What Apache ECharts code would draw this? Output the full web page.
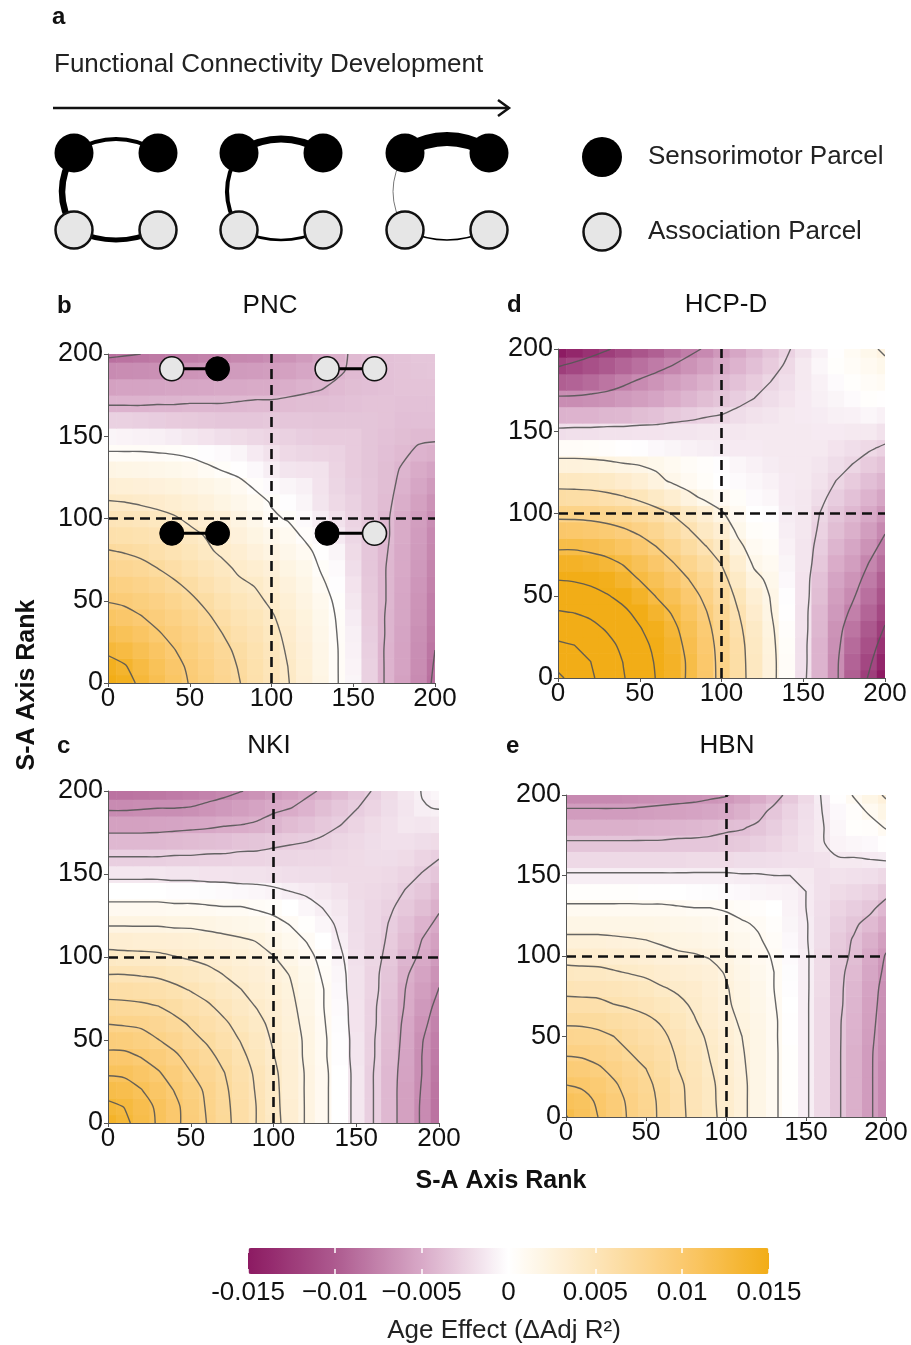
<!DOCTYPE html>
<html>
<head>
<meta charset="utf-8">
<title>Age effect along the S-A axis</title>
<script src="https://cdn.jsdelivr.net/npm/echarts@6/dist/echarts.min.js"></script>
<style>
  html, body { margin: 0; padding: 0; background: #fff; }
  #chart { width: 911px; height: 1345px; }
</style>
</head>
<body>
<div id="chart"></div>
<script>
const FONT = "'Liberation Sans', Arial, Helvetica, sans-serif";

// S-A axis rank grid positions (both axes)
const ranks = [0, 10, 20, 30, 40, 50, 60, 70, 80, 90, 100, 110, 120, 130, 140, 150, 160, 170, 180, 190, 200];
const rankTicks = [0, 50, 100, 150, 200];
const splitRank = 100;

// colour bar
const barTicks = [-15, -10, -5, 0, 5, 10, 15];
const barLabels = ['-0.015', '\u22120.01', '\u22120.005', '0', '0.005', '0.01', '0.015'];
const barColors = ['#8c1a62', '#ad5a8f', '#d8a9c7', '#ffffff', '#fde5b9', '#fbc96f', '#f2ad17'];

// Age effect (delta adj R2) in units of 0.001.
// Matrices are symmetric: row j holds the values at (rank i, rank j) for i <= j.
const pncTri = [
  [16.0],
  [14.5, 13.7],
  [13.0, 12.5, 11.6],
  [11.7, 11.3, 10.7, 9.9],
  [10.6, 10.3, 9.8, 9.2, 8.6],
  [9.6, 9.4, 9.0, 8.5, 7.9, 7.2],
  [8.8, 8.6, 8.2, 7.7, 7.1, 6.4, 5.7],
  [7.8, 7.6, 7.3, 6.8, 6.2, 5.6, 5.0, 4.4],
  [6.9, 6.7, 6.4, 5.9, 5.4, 4.9, 4.3, 3.7, 3.2],
  [5.9, 5.8, 5.6, 5.3, 4.9, 4.4, 3.9, 3.3, 2.6, 2.0],
  [5.1, 5.0, 4.8, 4.5, 4.2, 3.7, 3.3, 2.8, 2.1, 1.5, 0.7],
  [4.1, 4.0, 3.8, 3.6, 3.3, 2.9, 2.5, 2.0, 1.5, 1.0, 0.4, -0.1],
  [3.0, 2.9, 2.8, 2.6, 2.4, 2.1, 1.8, 1.4, 0.9, 0.3, -0.3, -0.6, -0.9],
  [1.9, 1.8, 1.7, 1.6, 1.4, 1.2, 0.8, 0.4, 0.1, -0.4, -1.0, -1.5, -1.6, -1.7],
  [0.6, 0.6, 0.6, 0.5, 0.4, 0.2, -0.1, -0.3, -0.6, -1.2, -1.7, -2.2, -2.4, -2.5, -2.6],
  [-0.6, -0.7, -0.8, -0.9, -1.1, -1.4, -1.6, -1.9, -2.1, -2.3, -2.5, -2.7, -2.9, -3.0, -3.0, -3.0],
  [-2.7, -2.7, -2.8, -2.9, -3.0, -3.1, -3.2, -3.3, -3.3, -3.3, -3.2, -3.3, -3.3, -3.4, -3.4, -3.4, -3.4],
  [-4.4, -4.4, -4.4, -4.3, -4.3, -4.2, -4.2, -4.2, -4.1, -4.0, -4.0, -3.9, -3.8, -3.8, -3.7, -3.6, -3.5, -3.5],
  [-5.5, -5.4, -5.4, -5.3, -5.2, -5.2, -5.1, -5.0, -5.0, -4.9, -4.9, -4.7, -4.5, -4.3, -4.0, -3.8, -3.7, -3.6, -3.5],
  [-6.9, -6.8, -6.7, -6.6, -6.4, -6.3, -6.2, -6.0, -5.9, -5.8, -5.7, -5.5, -5.2, -4.9, -4.4, -4.0, -3.7, -3.6, -3.5, -3.4],
  [-8.6, -8.4, -8.2, -8.0, -7.8, -7.7, -7.5, -7.3, -7.1, -7.0, -6.7, -6.4, -5.9, -5.3, -4.6, -4.0, -3.7, -3.6, -3.5, -3.3, -3.3]
];
const hcpdTri = [
  [27.7],
  [25.8, 25.0],
  [23.9, 23.4, 22.2],
  [21.9, 21.6, 20.7, 19.5],
  [20.0, 19.7, 19.1, 18.0, 16.8],
  [18.0, 17.8, 17.2, 16.4, 15.3, 14.0],
  [16.1, 15.9, 15.5, 14.7, 13.7, 12.5, 11.5],
  [14.1, 14.1, 13.7, 13.2, 12.4, 11.4, 10.3, 9.1],
  [12.2, 12.2, 11.9, 11.5, 10.8, 10.0, 9.0, 7.9, 6.6],
  [10.3, 10.2, 10.0, 9.7, 9.2, 8.5, 7.7, 6.6, 5.5, 4.2],
  [8.3, 8.3, 8.2, 7.9, 7.5, 6.9, 6.2, 5.3, 4.3, 3.2, 2.0],
  [6.4, 6.3, 6.2, 5.9, 5.5, 4.9, 4.1, 3.3, 2.3, 1.4, 0.9, 0.4],
  [4.4, 4.4, 4.3, 4.1, 3.6, 3.1, 2.3, 1.5, 0.9, 0.4, 0.0, -0.3, -0.5],
  [2.5, 2.5, 2.4, 2.2, 1.9, 1.7, 1.4, 1.0, 0.6, 0.3, -0.1, -0.5, -0.8, -1.1],
  [0.5, 0.5, 0.4, 0.3, 0.1, -0.1, -0.4, -0.6, -0.8, -1.0, -1.1, -1.2, -1.2, -1.3, -1.3],
  [-1.9, -1.8, -1.8, -1.7, -1.7, -1.6, -1.6, -1.5, -1.5, -1.4, -1.4, -1.4, -1.3, -1.3, -1.3, -1.3],
  [-4.5, -4.4, -4.4, -4.2, -4.1, -3.8, -3.6, -3.2, -2.9, -2.6, -2.4, -2.0, -1.7, -1.5, -1.3, -1.2, -1.1],
  [-6.8, -6.8, -6.6, -6.4, -6.0, -5.7, -5.3, -4.8, -4.3, -3.8, -3.4, -2.9, -2.4, -2.0, -1.6, -1.2, -0.9, -0.6],
  [-9.7, -9.4, -8.9, -8.3, -7.6, -6.9, -6.3, -5.7, -5.2, -4.6, -4.1, -3.6, -3.0, -2.4, -1.9, -1.3, -0.8, -0.3, 0.2],
  [-12.2, -11.5, -10.8, -10.1, -9.3, -8.6, -7.9, -7.2, -6.4, -5.7, -5.0, -4.4, -3.7, -3.0, -2.2, -1.3, -0.5, 0.2, 0.6, 1.0],
  [-14.9, -14.0, -13.1, -12.2, -11.3, -10.4, -9.6, -8.7, -7.8, -7.0, -6.1, -5.2, -4.3, -3.5, -2.6, -1.7, -0.8, 0.1, 0.8, 1.4, 2.1]
];
const nkiTri = [
  [14.0],
  [13.1, 12.7],
  [12.1, 11.9, 11.3],
  [11.1, 11.0, 10.5, 9.9],
  [10.1, 10.1, 9.7, 9.2, 8.5],
  [9.2, 9.1, 8.8, 8.3, 7.8, 7.1],
  [8.2, 8.1, 8.0, 7.6, 7.1, 6.6, 6.0],
  [7.2, 7.1, 7.0, 6.8, 6.4, 5.9, 5.5, 4.8],
  [6.2, 6.2, 6.1, 5.9, 5.6, 5.2, 4.7, 4.2, 3.8],
  [5.2, 5.2, 5.1, 5.0, 4.7, 4.4, 4.1, 3.7, 3.3, 3.0],
  [4.2, 4.1, 4.1, 4.0, 3.8, 3.6, 3.4, 3.2, 2.9, 2.6, 2.3],
  [3.2, 3.2, 3.1, 3.1, 3.0, 2.9, 2.7, 2.6, 2.4, 2.2, 1.7, 1.2],
  [2.1, 2.1, 2.1, 2.1, 2.0, 2.0, 1.9, 1.7, 1.6, 1.4, 1.1, 0.7, 0.2],
  [1.1, 1.1, 1.1, 1.1, 1.0, 1.0, 0.9, 0.8, 0.8, 0.6, 0.4, 0.0, -0.5, -1.0],
  [0.0, 0.0, 0.0, 0.0, -0.1, -0.1, -0.2, -0.3, -0.4, -0.5, -0.7, -1.0, -1.2, -1.4, -1.7],
  [-1.4, -1.4, -1.4, -1.4, -1.5, -1.5, -1.6, -1.6, -1.7, -1.7, -1.8, -1.9, -2.0, -2.0, -2.1, -2.1],
  [-2.8, -2.8, -2.8, -2.8, -2.7, -2.7, -2.6, -2.6, -2.5, -2.5, -2.4, -2.4, -2.3, -2.3, -2.2, -2.1, -2.0],
  [-4.1, -4.1, -4.1, -4.1, -4.0, -3.9, -3.8, -3.7, -3.5, -3.4, -3.2, -3.0, -2.9, -2.7, -2.4, -2.2, -2.0, -1.8],
  [-5.5, -5.5, -5.5, -5.4, -5.3, -5.2, -5.1, -4.9, -4.8, -4.6, -4.3, -3.9, -3.6, -3.2, -2.9, -2.5, -2.1, -1.8, -1.4],
  [-6.9, -6.9, -6.8, -6.7, -6.7, -6.6, -6.3, -6.0, -5.7, -5.4, -5.0, -4.8, -4.4, -3.8, -3.3, -2.9, -2.5, -2.0, -1.5, -1.0],
  [-8.4, -8.4, -8.3, -8.1, -7.9, -7.7, -7.4, -7.1, -6.7, -6.4, -5.9, -5.5, -5.0, -4.6, -4.0, -3.3, -2.8, -2.1, -1.4, -0.9, -0.5]
];
const hbnTri = [
  [12.1],
  [11.2, 10.9],
  [10.4, 10.2, 9.7],
  [9.5, 9.4, 9.0, 8.4],
  [8.6, 8.5, 8.2, 7.8, 7.2],
  [7.8, 7.7, 7.5, 7.2, 6.7, 6.2],
  [6.9, 6.9, 6.8, 6.5, 6.2, 5.9, 5.4],
  [6.0, 6.0, 5.9, 5.6, 5.4, 5.1, 4.7, 4.3],
  [5.2, 5.1, 5.1, 5.0, 4.8, 4.5, 4.1, 3.8, 3.6],
  [4.4, 4.3, 4.3, 4.1, 3.9, 3.7, 3.4, 3.2, 3.0, 2.8],
  [3.5, 3.5, 3.4, 3.3, 3.2, 3.0, 2.8, 2.6, 2.5, 2.3, 2.1],
  [2.7, 2.7, 2.7, 2.6, 2.5, 2.4, 2.2, 2.0, 1.9, 1.7, 1.5, 1.3],
  [1.8, 1.8, 1.8, 1.8, 1.8, 1.8, 1.7, 1.6, 1.5, 1.3, 1.1, 0.9, 0.7],
  [1.0, 1.0, 1.0, 1.0, 1.0, 1.0, 1.0, 0.9, 0.8, 0.8, 0.7, 0.5, 0.3, 0.0],
  [0.2, 0.2, 0.2, 0.2, 0.2, 0.1, 0.1, 0.0, -0.1, -0.2, -0.3, -0.4, -0.6, -0.7, -0.8],
  [-1.0, -1.0, -1.0, -1.0, -1.0, -1.0, -1.0, -1.0, -1.0, -1.0, -1.0, -1.1, -1.1, -1.2, -1.2, -1.3],
  [-2.2, -2.2, -2.2, -2.2, -2.2, -2.2, -2.2, -2.2, -2.1, -2.1, -2.1, -2.0, -2.0, -1.9, -1.8, -1.8, -1.7],
  [-3.4, -3.4, -3.4, -3.4, -3.4, -3.4, -3.4, -3.3, -3.3, -3.3, -3.2, -3.1, -2.8, -2.5, -2.1, -1.7, -1.3, -0.7],
  [-4.6, -4.6, -4.6, -4.6, -4.6, -4.5, -4.4, -4.3, -4.2, -4.0, -3.8, -3.7, -3.4, -2.9, -2.3, -1.8, -1.3, -0.5, 0.2],
  [-5.8, -5.8, -5.8, -5.8, -5.8, -5.7, -5.6, -5.5, -5.4, -5.2, -5.0, -4.6, -4.0, -3.3, -2.6, -1.9, -1.2, -0.4, 0.3, 1.0],
  [-7.0, -7.0, -7.0, -7.0, -6.9, -6.8, -6.7, -6.6, -6.5, -6.3, -6.1, -5.6, -4.9, -4.1, -3.2, -2.2, -1.1, 0.1, 0.9, 1.8, 2.6]
];

// contour levels (0.001 units) for each dataset
const pncLevels = [-8.2, -4.2, 0.5, 4.0, 6.8, 9.7, 13.5];
const hcpdLevels = [-12.0, -7.2, -2.4, 1.8, 5.4, 9.0, 12.6, 16.2, 19.8, 23.4, 27.0];
const nkiLevels = [-6.65, -4.75, -2.85, -0.95, 0.75, 2.25, 3.75, 5.25, 6.75, 8.25, 9.75, 11.25, 12.75];
const hbnLevels = [-6.0, -3.6, -1.2, 0.8, 2.4, 4.0, 5.6, 7.2, 8.8, 10.4, 12.0];

// parcel-pair icons in the PNC panel (rank positions)
const pairY = [191, 191, 91, 91];
const pairX = [[39, 67], [134, 163], [39, 67], [134, 163]];
const pairKind = [['A', 'S'], ['A', 'A'], ['S', 'S'], ['S', 'A']];

// schematic: edge thickness per stage (S-S, S-A, A-A)
const stageEdges = [[4, 6.5, 5], [7, 4, 2.5], [14, 1, 1.5]];

const panels = [
  { name: 'PNC', letter: 'b', tri: pncTri, levels: pncLevels,
    grid: { left: 108, top: 354, width: 327, height: 329 }, titleX: 270, titleY: 306, letterX: 57 },
  { name: 'HCP-D', letter: 'd', tri: hcpdTri, levels: hcpdLevels,
    grid: { left: 558, top: 349, width: 327, height: 329 }, titleX: 726, titleY: 305, letterX: 507 },
  { name: 'NKI', letter: 'c', tri: nkiTri, levels: nkiLevels,
    grid: { left: 108, top: 791, width: 331, height: 332 }, titleX: 269, titleY: 746, letterX: 57 },
  { name: 'HBN', letter: 'e', tri: hbnTri, levels: hbnLevels,
    grid: { left: 566, top: 795, width: 320, height: 322 }, titleX: 727, titleY: 746, letterX: 506 }
];

function valueAt(tri, i, j) {
  return i <= j ? tri[j][i] : tri[i][j];
}

function cells(tri) {
  const out = [];
  ranks.forEach((y, j) => ranks.forEach((x, i) => out.push([x, y, valueAt(tri, i, j)])));
  return out;
}

// marching squares on the rank grid, segments chained into polylines
function contours(tri, levels) {
  const n = ranks.length;
  const lines = [];
  const v = (i, j) => valueAt(tri, i, j);
  levels.forEach(level => {
    const pts = {};
    const segs = [];
    const hEdge = (i, j) => {
      const k = 'h' + i + '_' + j;
      if (!pts[k]) {
        const t = (level - v(i, j)) / (v(i + 1, j) - v(i, j));
        pts[k] = [ranks[i] + t * (ranks[i + 1] - ranks[i]), ranks[j]];
      }
      return k;
    };
    const vEdge = (i, j) => {
      const k = 'v' + i + '_' + j;
      if (!pts[k]) {
        const t = (level - v(i, j)) / (v(i, j + 1) - v(i, j));
        pts[k] = [ranks[i], ranks[j] + t * (ranks[j + 1] - ranks[j])];
      }
      return k;
    };
    for (let i = 0; i < n - 1; i++) {
      for (let j = 0; j < n - 1; j++) {
        const c0 = v(i, j) >= level, c1 = v(i + 1, j) >= level;
        const c2 = v(i + 1, j + 1) >= level, c3 = v(i, j + 1) >= level;
        const e = [];
        if (c0 !== c1) e.push(hEdge(i, j));
        if (c1 !== c2) e.push(vEdge(i + 1, j));
        if (c3 !== c2) e.push(hEdge(i, j + 1));
        if (c0 !== c3) e.push(vEdge(i, j));
        if (e.length === 2) segs.push(e);
        else if (e.length === 4) {
          const mid = (v(i, j) + v(i + 1, j) + v(i + 1, j + 1) + v(i, j + 1)) / 4 >= level;
          if (mid === c0) segs.push([e[0], e[1]], [e[2], e[3]]);
          else segs.push([e[0], e[3]], [e[1], e[2]]);
        }
      }
    }
    const adj = {};
    segs.forEach((s, k) => s.forEach(key => (adj[key] = adj[key] || []).push(k)));
    const used = segs.map(() => false);
    const next = key => (adj[key] || []).find(k => !used[k]);
    segs.forEach((s, k) => {
      if (used[k]) return;
      used[k] = true;
      const chain = [s[0], s[1]];
      let m;
      while ((m = next(chain[chain.length - 1])) !== undefined) {
        used[m] = true;
        const last = chain[chain.length - 1];
        chain.push(segs[m][0] === last ? segs[m][1] : segs[m][0]);
      }
      while ((m = next(chain[0])) !== undefined) {
        used[m] = true;
        const first = chain[0];
        chain.unshift(segs[m][0] === first ? segs[m][1] : segs[m][0]);
      }
      lines.push(chain.map(key => pts[key]));
    });
  });
  return lines;
}

function renderCell(params, api) {
  const x = api.value(0), y = api.value(1);
  const h = (ranks[1] - ranks[0]) / 2;
  const lo = ranks[0], hi = ranks[ranks.length - 1];
  const a = api.coord([Math.max(lo, x - h), Math.min(hi, y + h)]);
  const b = api.coord([Math.min(hi, x + h), Math.max(lo, y - h)]);
  return {
    type: 'rect',
    shape: { x: a[0], y: a[1], width: b[0] - a[0] + 0.6, height: b[1] - a[1] + 0.6 },
    style: { fill: api.visual('color') }
  };
}

const grids = panels.map(p => Object.assign({ outerBoundsMode: 'none' }, p.grid));
grids.push({ left: 248, top: 1248, width: 521, height: 26, outerBoundsMode: 'none' });

const axisCommon = {
  type: 'value', min: ranks[0], max: ranks[ranks.length - 1], interval: 50, z: 5,
  axisLine: { show: true, onZero: false, lineStyle: { color: '#555', width: 1 } },
  axisTick: { show: true, length: 4, lineStyle: { color: '#555' } },
  splitLine: { show: false }
};
const xAxes = panels.map((p, i) => Object.assign({}, axisCommon, {
  gridIndex: i,
  axisLabel: { fontSize: 26, color: '#111', margin: 3, fontFamily: FONT }
}));
const yAxes = panels.map((p, i) => Object.assign({}, axisCommon, {
  gridIndex: i,
  axisLabel: { fontSize: 27, color: '#111', margin: 5, fontFamily: FONT }
}));
const barAxis = {
  type: 'value', gridIndex: 4, min: barTicks[0], max: barTicks[barTicks.length - 1], interval: 5, z: 10,
  axisLine: { show: false },
  axisTick: { show: true, inside: true, length: 5, lineStyle: { color: '#fff', width: 1.5 } },
  splitLine: { show: false }
};
xAxes.push(Object.assign({}, barAxis, {
  position: 'bottom',
  axisLabel: { fontSize: 26, color: '#111', margin: 6, fontFamily: FONT,
    formatter: val => barLabels[barTicks.indexOf(val)] }
}));
xAxes.push(Object.assign({}, barAxis, { position: 'top', axisLabel: { show: false } }));
yAxes.push({ type: 'value', gridIndex: 4, min: 0, max: 1, show: false });

const series = [];
panels.forEach((p, i) => {
  series.push({
    type: 'custom', name: p.name, xAxisIndex: i, yAxisIndex: i,
    data: cells(p.tri), encode: { x: 0, y: 1 }, renderItem: renderCell,
    silent: true, clip: true, z: 1
  });
});
panels.forEach((p, i) => {
  const lines = contours(p.tri, p.levels);
  series.push({
    type: 'custom', name: p.name + ' contours', xAxisIndex: i, yAxisIndex: i,
    data: lines.map(l => [l[0][0], l[0][1]]), encode: { x: 0, y: 1 },
    renderItem: (params, api) => ({
      type: 'polyline',
      shape: { points: lines[params.dataIndex].map(pt => api.coord(pt)), smooth: 0.3 },
      style: { stroke: '#555', lineWidth: 1.4, fill: null, opacity: 0.9 }
    }),
    silent: true, clip: true, z: 2,
    markLine: {
      silent: true, symbol: ['none', 'none'], label: { show: false },
      lineStyle: { color: '#111', width: 2.6, type: [10, 6] },
      emphasis: { disabled: true },
      data: [{ xAxis: splitRank }, { yAxis: splitRank }]
    }
  });
});
pairY.forEach((y, k) => {
  series.push({
    type: 'line', xAxisIndex: 0, yAxisIndex: 0, silent: true, z: 6,
    symbol: 'circle', symbolSize: 24, showSymbol: true,
    lineStyle: { color: '#000', width: 3 },
    data: pairX[k].map((x, s) => ({
      value: [x, y],
      itemStyle: pairKind[k][s] === 'S'
        ? { color: '#000', borderColor: '#000', borderWidth: 1 }
        : { color: '#e6e6e6', borderColor: '#111', borderWidth: 1.6 }
    }))
  });
});

// schematic (panel a) and text
const graphic = [];
const txt = (text, x, y, size, opts) => Object.assign({
  type: 'text', x: x, y: y, silent: true,
  style: Object.assign({ text: text, fill: '#111', font: size + 'px ' + FONT, textAlign: 'left', textVerticalAlign: 'middle' },
    opts || {})
});
graphic.push(txt('a', 52, 17, 24, { font: 'bold 24px ' + FONT }));
graphic.push(txt('Functional Connectivity Development', 54, 65, 26, { fill: '#222' }));
graphic.push({ type: 'polyline', silent: true, shape: { points: [[53, 108], [509, 108]] }, style: { stroke: '#111', lineWidth: 2.5 } });
graphic.push({ type: 'polyline', silent: true, shape: { points: [[498, 100], [509, 108], [498, 116]] }, style: { stroke: '#111', lineWidth: 2.5, fill: null } });

const stageLeft = [74, 239, 405];
const pairGap = 84, topY = 153, botY = 230;
stageEdges.forEach((w, s) => {
  const xl = stageLeft[s], xr = xl + pairGap, xm = (xl + xr) / 2;
  graphic.push({ type: 'bezierCurve', silent: true, z: 1,
    shape: { x1: xl, y1: topY - 2, x2: xr, y2: topY - 2, cpx1: xm, cpy1: topY - 26 },
    style: { stroke: '#000', lineWidth: w[0], fill: null } });
  graphic.push({ type: 'bezierCurve', silent: true, z: 1,
    shape: { x1: xl, y1: topY, x2: xl, y2: botY, cpx1: xl - 24, cpy1: (topY + botY) / 2 },
    style: { stroke: w[1] <= 1 ? '#777' : '#000', lineWidth: w[1], fill: null } });
  graphic.push({ type: 'bezierCurve', silent: true, z: 1,
    shape: { x1: xl, y1: botY, x2: xr, y2: botY, cpx1: xm, cpy1: botY + 20 },
    style: { stroke: '#000', lineWidth: w[2], fill: null } });
  [xl, xr].forEach(cx => {
    graphic.push({ type: 'circle', silent: true, z: 2, shape: { cx: cx, cy: topY, r: 19.5 }, style: { fill: '#000' } });
    graphic.push({ type: 'circle', silent: true, z: 2, shape: { cx: cx, cy: botY, r: 18.5 },
      style: { fill: '#e6e6e6', stroke: '#111', lineWidth: 2.5 } });
  });
});
graphic.push({ type: 'circle', silent: true, shape: { cx: 602, cy: 157, r: 20 }, style: { fill: '#000' } });
graphic.push({ type: 'circle', silent: true, shape: { cx: 602, cy: 232, r: 18.5 }, style: { fill: '#e6e6e6', stroke: '#111', lineWidth: 2.5 } });
graphic.push(txt('Sensorimotor Parcel', 648, 157, 26, { fill: '#222' }));
graphic.push(txt('Association Parcel', 648, 232, 26, { fill: '#222' }));

panels.forEach(p => {
  graphic.push(txt(p.letter, p.letterX, p.titleY, 24, { font: 'bold 24px ' + FONT }));
  graphic.push(txt(p.name, p.titleX, p.titleY, 26, { textAlign: 'center' }));
});
graphic.push({ type: 'text', x: 27, y: 685, rotation: Math.PI / 2, silent: true,
  style: { text: 'S-A Axis Rank', font: 'bold 25px ' + FONT, fill: '#111', textAlign: 'center', textVerticalAlign: 'middle' } });
graphic.push(txt('S-A Axis Rank', 501, 1181, 25, { font: 'bold 25px ' + FONT, textAlign: 'center' }));
graphic.push(txt('Age Effect (\u0394Adj R\u00b2)', 504, 1331, 26, { textAlign: 'center', fill: '#222' }));

const chart = echarts.init(document.getElementById('chart'), null, { renderer: 'canvas' });
chart.setOption({
  animation: false,
  backgroundColor: '#fff',
  textStyle: { fontFamily: FONT },
  grid: grids,
  xAxis: xAxes,
  yAxis: yAxes,
  visualMap: {
    type: 'continuous', min: barTicks[0], max: barTicks[barTicks.length - 1],
    seriesIndex: [0, 1, 2, 3], dimension: 2,
    orient: 'horizontal', left: 248, top: 1248, itemWidth: 26, itemHeight: 521,
    padding: 0, calculable: false, hoverLink: false, realtime: false,
    inRange: { color: barColors }
  },
  graphic: graphic,
  series: series
});
</script>
</body>
</html>
